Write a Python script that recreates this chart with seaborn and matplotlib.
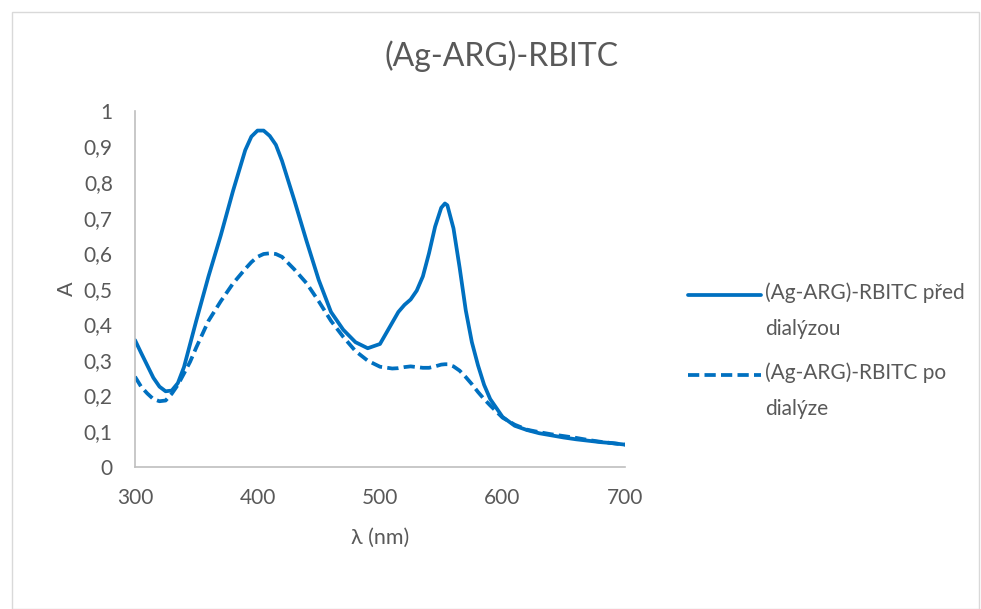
import matplotlib
matplotlib.use("Agg")
import matplotlib.pyplot as plt
import matplotlib.ticker as mticker
from matplotlib.patches import Rectangle
import pandas as pd
import seaborn as sns

wavelength = [300, 305, 310, 315, 320, 325, 330, 335, 340, 345, 350, 360, 370,
              380, 390, 395, 400, 405, 410, 415, 420, 430, 440, 450, 460, 470,
              480, 490, 500, 510, 515, 520, 525, 530, 535, 540, 545, 550, 553,
              555, 560, 565, 570, 575, 580, 585, 590, 600, 610, 620, 630, 640,
              650, 660, 670, 680, 690, 700]

abs_before = [0.356, 0.32, 0.285, 0.25, 0.225, 0.212, 0.214, 0.235, 0.28,
              0.345, 0.41, 0.535, 0.65, 0.775, 0.89, 0.928, 0.945, 0.945,
              0.93, 0.905, 0.86, 0.75, 0.635, 0.525, 0.435, 0.385, 0.35,
              0.333, 0.345, 0.405, 0.435, 0.455, 0.47, 0.495, 0.535, 0.60,
              0.675, 0.728, 0.74, 0.735, 0.67, 0.56, 0.44, 0.35, 0.285, 0.23,
              0.19, 0.14, 0.115, 0.103, 0.094, 0.088, 0.082, 0.077, 0.073,
              0.069, 0.066, 0.062]

abs_after = [0.253, 0.225, 0.206, 0.19, 0.184, 0.186, 0.205, 0.23, 0.262,
             0.295, 0.335, 0.41, 0.465, 0.515, 0.556, 0.575, 0.59, 0.598,
             0.60, 0.598, 0.59, 0.555, 0.516, 0.465, 0.41, 0.365, 0.325,
             0.298, 0.281, 0.276, 0.277, 0.28, 0.282, 0.28, 0.278, 0.278,
             0.282, 0.287, 0.288, 0.288, 0.282, 0.27, 0.252, 0.232, 0.21,
             0.19, 0.172, 0.138, 0.118, 0.104, 0.097, 0.091, 0.086, 0.081,
             0.075, 0.07, 0.066, 0.062]

series_names = ["(Ag-ARG)-RBITC před dialýzou", "(Ag-ARG)-RBITC po dialýze"]
legend_labels = ["(Ag-ARG)-RBITC před\ndialýzou", "(Ag-ARG)-RBITC po\ndialýze"]
y_ticks = [0, 0.1, 0.2, 0.3, 0.4, 0.5, 0.6, 0.7, 0.8, 0.9, 1.0]
x_ticks = [300, 400, 500, 600, 700]

BLUE = "#0070C0"
TEXT = "#595959"
AXIS = "#BFBFBF"


def comma_formatter(x, pos):
    s = f"{x:.1f}".rstrip("0").rstrip(".")
    return s.replace(".", ",")


def main():
    df = pd.concat([
        pd.DataFrame({"wl": wavelength, "A": abs_before, "series": series_names[0]}),
        pd.DataFrame({"wl": wavelength, "A": abs_after, "series": series_names[1]}),
    ])

    sns.set_style("white")
    plt.rcParams["font.family"] = ["Lato", "DejaVu Sans"]

    fig = plt.figure(figsize=(9.81, 6.09), dpi=100)
    ax = fig.add_axes([0.1376, 0.2337, 0.4995, 0.584])
    sns.lineplot(data=df, x="wl", y="A", hue="series", style="series",
                 palette=[BLUE, BLUE],
                 dashes={series_names[0]: "", series_names[1]: (3.0, 1.4)},
                 linewidth=2.7, ax=ax)

    ax.set_xlim(300, 700)
    ax.set_ylim(0, 1)
    ax.set_xticks(x_ticks)
    ax.set_yticks(y_ticks)
    ax.yaxis.set_major_formatter(mticker.FuncFormatter(comma_formatter))
    ax.tick_params(direction="in", length=4, width=1, color=AXIS,
                   labelcolor=TEXT, labelsize=15)
    ax.tick_params(axis="x", pad=15)
    ax.tick_params(axis="y", pad=16)
    for side in ["top", "right"]:
        ax.spines[side].set_visible(False)
    for side in ["left", "bottom"]:
        ax.spines[side].set_color(AXIS)
        ax.spines[side].set_linewidth(1.2)

    fig.text(502 / 981, 1 - 56 / 609, "(Ag-ARG)-RBITC", fontsize=23,
             color=TEXT, ha="center", va="center")
    ax.set_xlabel("λ (nm)", fontsize=15.5, color=TEXT, labelpad=15)
    ax.set_ylabel("A", fontsize=15.5, color=TEXT, labelpad=5)

    handles, labels = ax.get_legend_handles_labels()
    leg = ax.legend(handles, legend_labels, loc="center left",
                    bbox_to_anchor=(0.682, 0.424),
                    bbox_transform=fig.transFigure, frameon=False,
                    fontsize=15, labelcolor=TEXT, handlelength=3.5,
                    handletextpad=0.2, labelspacing=1.1)
    for t in leg.get_texts():
        t.set_linespacing(2.0)
    # Excel aligns the legend line with the first text row
    for line in leg.get_lines():
        line.set_ydata([v + 12 for v in line.get_ydata()])

    fig.patches.append(Rectangle((0.012, 0.0), 0.986, 0.98,
                                 transform=fig.transFigure, fill=False,
                                 edgecolor="#D9D9D9", linewidth=1))
    fig.savefig("out.png", dpi=100)
    plt.close(fig)


if __name__ == "__main__":
    main()
